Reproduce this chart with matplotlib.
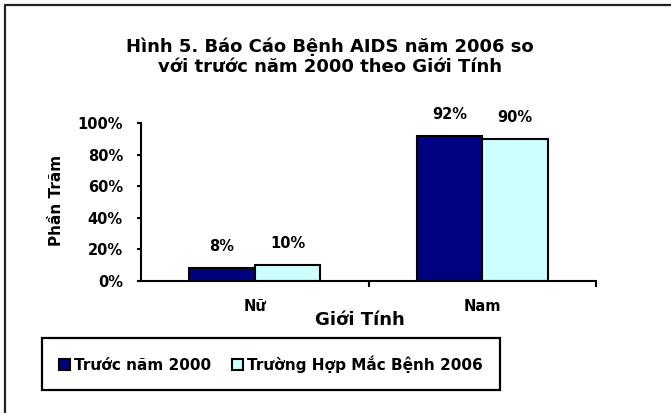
import matplotlib.pyplot as plt
from matplotlib.lines import Line2D
import numpy as np

plt.rcParams["font.family"] = ["DejaVu Sans"]
plt.rcParams["font.weight"] = "bold"

# Data
categories = ["Nữ", "Nam"]
before_2000 = [8, 92]
cases_2006 = [10, 90]
series_names = ["Trước năm 2000", "Trường Hợp Mắc Bệnh 2006"]
y_ticks = [0, 20, 40, 60, 80, 100]

W, H = 671, 413
fig = plt.figure(figsize=(W / 100, H / 100), dpi=100)

# chart border (only top and left edges fall inside the picture)
fig.lines.append(Line2D([5 / W, 5 / W, 1], [0, 1 - 5 / H, 1 - 5 / H],
                        transform=fig.transFigure, color='#222222', linewidth=1.6))

ax = fig.add_axes([141 / W, 132 / H, 455 / W, 158 / H])

x = np.arange(len(categories))
bw = 0.288
b1 = ax.bar(x - bw / 2, before_2000, bw, color='#000080', edgecolor='black', linewidth=1.5,
            label=series_names[0])
b2 = ax.bar(x + bw / 2, cases_2006, bw, color='#CCFFFF', edgecolor='black', linewidth=1.5,
            label=series_names[1])

for bars, vals in [(b1, before_2000), (b2, cases_2006)]:
    for bar, v in zip(bars, vals):
        ax.annotate(f'{v}%', (bar.get_x() + bar.get_width() / 2, v),
                    xytext=(0, 10), textcoords='offset points',
                    ha='center', va='bottom', fontsize=10.5, fontweight='bold')

ax.set_xlim(-0.5, 1.5)
ax.set_ylim(0, 100)
ax.set_yticks(y_ticks)
ax.set_yticklabels([f'{t}%' for t in y_ticks], fontsize=10.5, fontweight='bold')
ax.set_xticks([0.5, 1.5])
ax.set_xticklabels([])
ax.set_xticks(x, minor=True)
ax.set_xticklabels(categories, minor=True, fontsize=10.5, fontweight='bold')
ax.tick_params(axis='x', which='minor', length=0, pad=13)
ax.tick_params(axis='x', which='major', length=4, width=1.5, direction='out')
ax.tick_params(axis='y', length=3, width=1.5, direction='out', pad=10)

for s in ['top', 'right']:
    ax.spines[s].set_visible(False)
ax.spines['left'].set_linewidth(1.5)
ax.spines['bottom'].set_linewidth(1.5)

fig.text(56 / W, 1 - 200 / H, 'Phần Trăm', ha='center', va='center', rotation=90,
         fontsize=11, fontweight='bold')
fig.text(360 / W, 1 - 320 / H, 'Giới Tính', ha='center', va='center',
         fontsize=13, fontweight='bold')

fig.text(330 / W, 1 - 57 / H, 'Hình 5. Báo Cáo Bệnh AIDS năm 2006 so\nvới trước năm 2000 theo Giới Tính',
         ha='center', va='center', fontsize=13, fontweight='bold', linespacing=1.15)

leg = fig.legend(handles=[b1, b2], loc='center',
                 bbox_to_anchor=(271 / W, 1 - 364 / H),
                 ncol=2, frameon=True, fancybox=False, framealpha=1,
                 handlelength=0.7, handleheight=0.7, handletextpad=0.25,
                 columnspacing=1.4, borderpad=1.15, borderaxespad=0,
                 prop={'size': 11, 'weight': 'bold'})
leg.get_frame().set_edgecolor('black')
leg.get_frame().set_linewidth(1.6)

plt.savefig("out.png", dpi=100)
